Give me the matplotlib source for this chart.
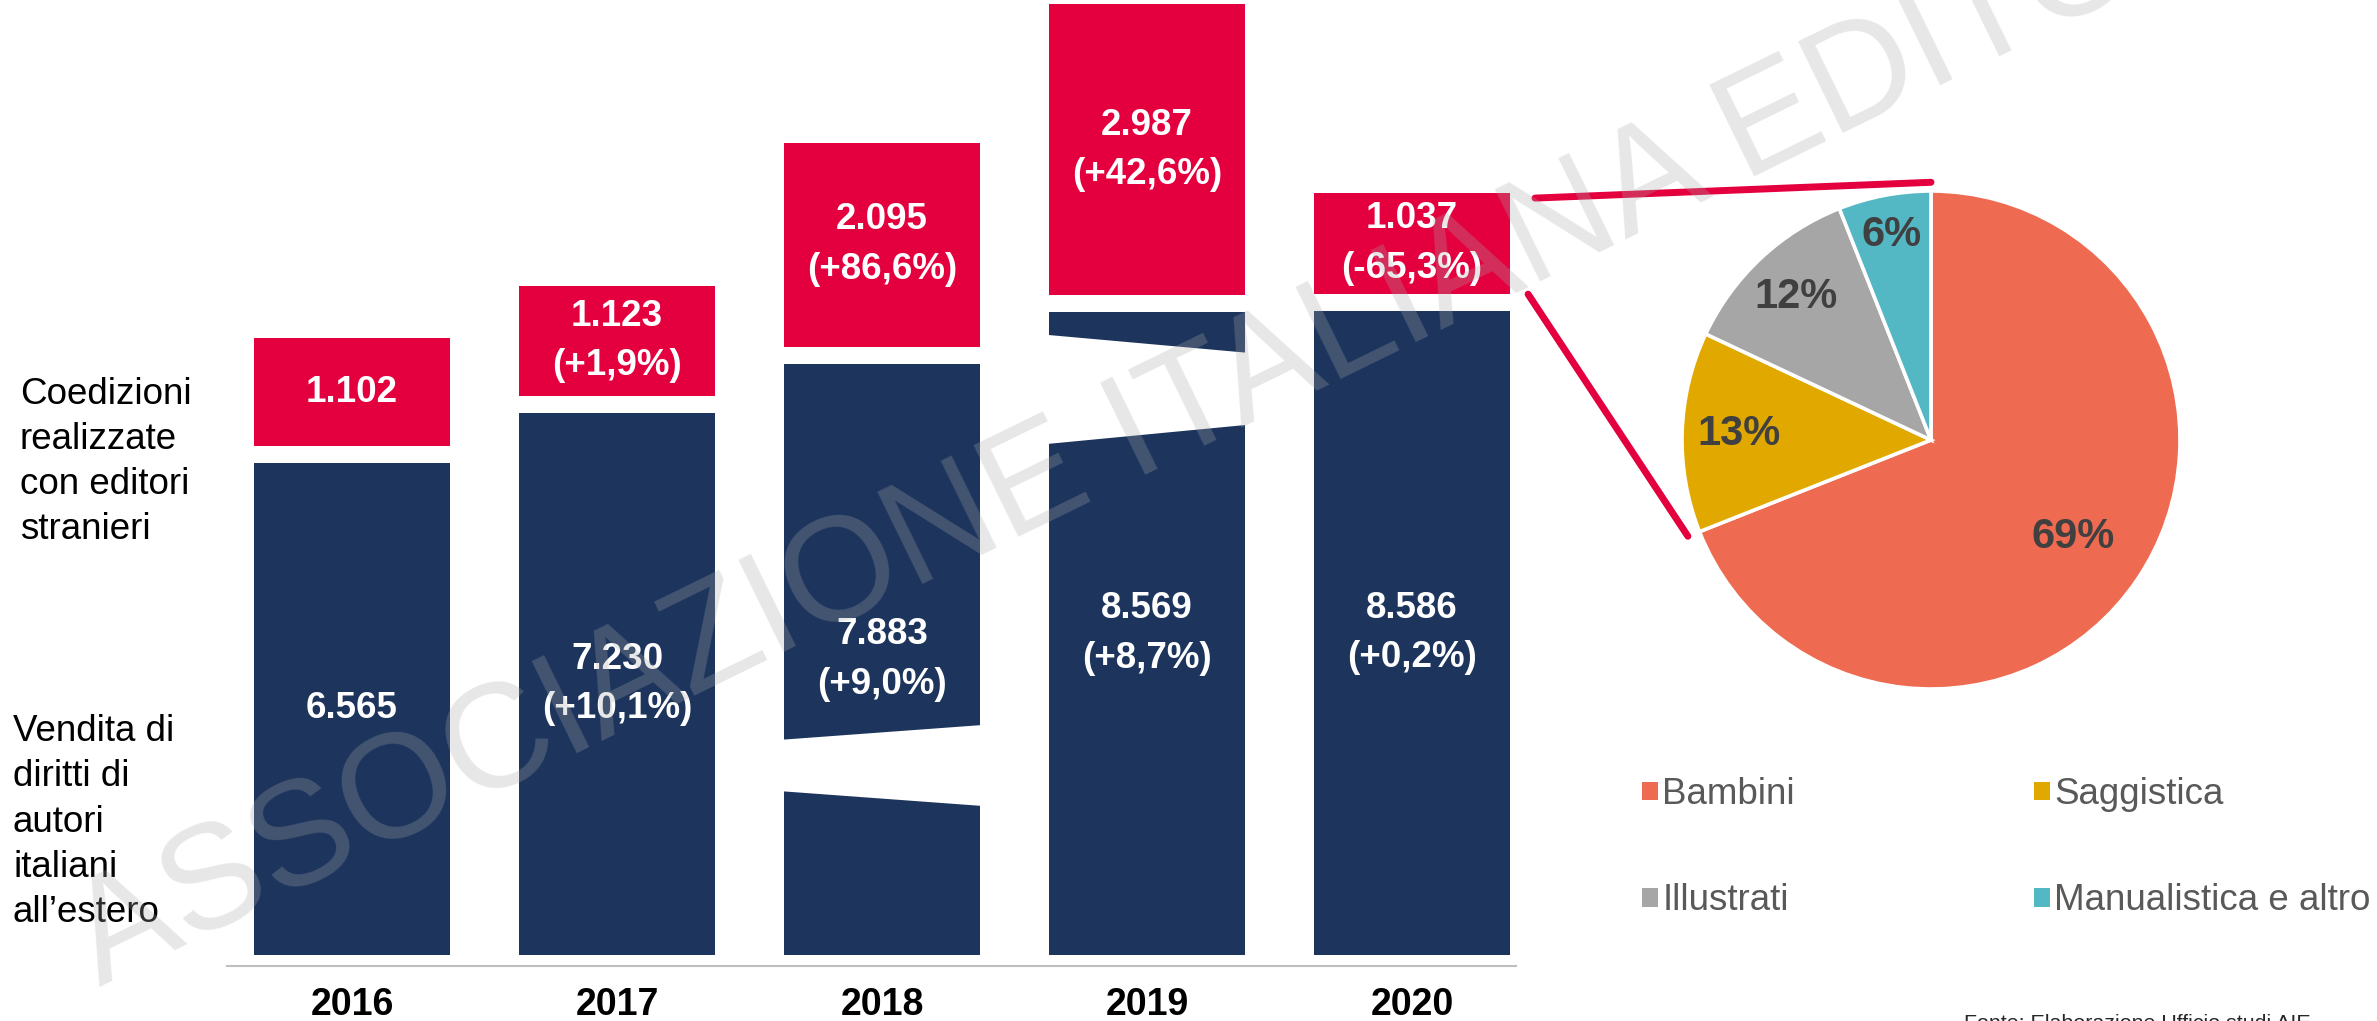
import matplotlib
matplotlib.use('Agg')
import matplotlib.pyplot as plt
from matplotlib.patches import Patch, Polygon, ConnectionPatch
import numpy as np

plt.rcParams['font.family'] = ['Liberation Sans', 'DejaVu Sans']

# ---------------- data ----------------
years = ['2016', '2017', '2018', '2019', '2020']
vendita = [6565, 7230, 7883, 8569, 8586]
vendita_var = ['', '+10,1%', '+9,0%', '+8,7%', '+0,2%']
coedizioni = [1102, 1123, 2095, 2987, 1037]
coedizioni_var = ['', '+1,9%', '+86,6%', '+42,6%', '-65,3%']
pie_labels = ['Bambini', 'Saggistica', 'Illustrati', 'Manualistica e altro']
pie_values = [69, 13, 12, 6]

# ---------------- styles ----------------
NAVY = '#1D355D'
RED = '#E4003E'
PIE_COLORS = ['#EE6A50', '#E1A900', '#A6A6A6', '#53B7C4']
RED_SCALE = 1.3      # visual scale of the red (coedizioni) blocks
GAP = 225            # gap between blocks (data units)
BAR_W = 0.74
# decorative "broken bar" cuts: (year index, left-top, right-top, right-bottom, left-bottom) as bar fractions
bar_breaks = [(2, 0.364, 0.389, 0.252, 0.277), (3, 0.965, 0.937, 0.825, 0.795)]
pct_radius = [0.69, 0.77, 0.79, 0.84]

W, H = 2377, 1021
fig = plt.figure(figsize=(W / 100, H / 100), dpi=100)


def fmt(v):
    return f'{v:,}'.replace(',', '.')


# ---------------- bar chart ----------------
ax = fig.add_axes([227 / W, 55 / H, (1516 - 227) / W, 966 / H])
x = np.arange(len(years))
ax.bar(x, vendita, width=BAR_W, color=NAVY, zorder=2)
red_bottom = np.array(vendita) + GAP
red_h = np.array(coedizioni) * RED_SCALE
ax.bar(x, red_h, bottom=red_bottom, width=BAR_W, color=RED, zorder=2, clip_on=False)

for idx, lt, rt, rb, lb in bar_breaks:
    v = vendita[idx]
    xl, xr = idx - BAR_W / 2 - 0.01, idx + BAR_W / 2 + 0.01
    ax.add_patch(Polygon([(xl, lt * v), (xr, rt * v), (xr, rb * v), (xl, lb * v)],
                         closed=True, facecolor='white', edgecolor='none', zorder=3))

lab_kw = dict(ha='center', va='center', color='white', fontsize=26.5, fontweight='bold',
              linespacing=1.54, zorder=4)
for i in x:
    s = fmt(vendita[i]) + (f'\n({vendita_var[i]})' if vendita_var[i] else '')
    ax.text(i, vendita[i] / 2, s, **lab_kw)
    s = fmt(coedizioni[i]) + (f'\n({coedizioni_var[i]})' if coedizioni_var[i] else '')
    ax.text(i, red_bottom[i] + red_h[i] / 2, s, clip_on=False, **lab_kw)

ax.set_xlim((227 - 352) / 265, (1516 - 352) / 265)
ax.set_ylim(-147, 955 / 0.075)
ax.set_xticks(x)
ax.set_xticklabels(years, fontsize=27, fontweight='bold', color='black')
ax.tick_params(axis='x', length=0, pad=15)
ax.set_yticks([])
for s in ['top', 'left', 'right']:
    ax.spines[s].set_visible(False)
ax.spines['bottom'].set_color('#BFBFBF')
ax.spines['bottom'].set_linewidth(1.5)
ax.patch.set_alpha(0)

# ---------------- pie ----------------
R = 249
axp = fig.add_axes([(1931 - R) / W, (H - 440 - R) / H, 2 * R / W, 2 * R / H])
wedges, texts, autotexts = axp.pie(
    pie_values, colors=PIE_COLORS, startangle=90, counterclock=False,
    autopct=lambda p: f'{p:.0f}%', pctdistance=0.75,
    wedgeprops=dict(edgecolor='white', linewidth=2.6),
    textprops=dict(color='#404040', fontsize=30, fontweight='bold'))
for w, t, r in zip(wedges, autotexts, pct_radius):
    a = np.deg2rad((w.theta1 + w.theta2) / 2)
    t.set_position((r * np.cos(a), r * np.sin(a)))
axp.set_xlim(-1, 1)
axp.set_ylim(-1, 1)
axp.set_aspect('equal')

# ---------------- connectors ----------------
i20 = len(years) - 1
top_red = red_bottom[i20] + red_h[i20]
con1 = ConnectionPatch(xyA=(i20 + BAR_W / 2 + 0.094, top_red - 67), coordsA=ax.transData,
                       xyB=(0, 1.035), coordsB=axp.transData, color=RED, lw=5, zorder=5)
theta = np.deg2rad(90 - 360 * pie_values[0] / sum(pie_values))
con2 = ConnectionPatch(xyA=(i20 + BAR_W / 2 + 0.068, red_bottom[i20]), coordsA=ax.transData,
                       xyB=(1.05 * np.cos(theta), 1.05 * np.sin(theta)), coordsB=axp.transData,
                       color=RED, lw=5, zorder=5)
fig.add_artist(con1)
fig.add_artist(con2)

# ---------------- legend ----------------
order = [0, 2, 1, 3]
handles = [Patch(facecolor=PIE_COLORS[k], edgecolor='none') for k in order]
labels = [pie_labels[k] for k in order]
fig.legend(handles, labels, loc='upper left', bbox_to_anchor=(1642 / W, 1 - 777 / H),
           ncol=2, frameon=False, fontsize=26.5, labelcolor='#595959',
           handlelength=0.43, handleheight=0.4, handletextpad=0.12,
           columnspacing=6.5, labelspacing=1.94, borderpad=0, borderaxespad=0)

# ---------------- side texts ----------------
fig.text(20 / W, 1 - 462 / H, 'Coedizioni\nrealizzate\ncon editori\nstranieri',
         ha='left', va='center', fontsize=26.5, color='black', linespacing=1.38)
fig.text(13 / W, 1 - 822 / H, 'Vendita di\ndiritti di\nautori\nitaliani\nall\u2019estero',
         ha='left', va='center', fontsize=26.5, color='black', linespacing=1.38)

fig.text(1964 / W, 1 - 1014 / H, 'Fonte: Elaborazione Ufficio studi AIE',
         ha='left', va='top', fontsize=15.4, color='#262626')

# ---------------- watermark ----------------
fig.text(100 / W, 1 - 987 / H, 'ASSOCIAZIONE ITALIANA EDITORI', rotation=26.1,
         rotation_mode='anchor', ha='left', va='baseline', fontsize=106.6,
         color='#a9a9a9', alpha=0.28, zorder=10)

fig.savefig('out.png', dpi=100)
